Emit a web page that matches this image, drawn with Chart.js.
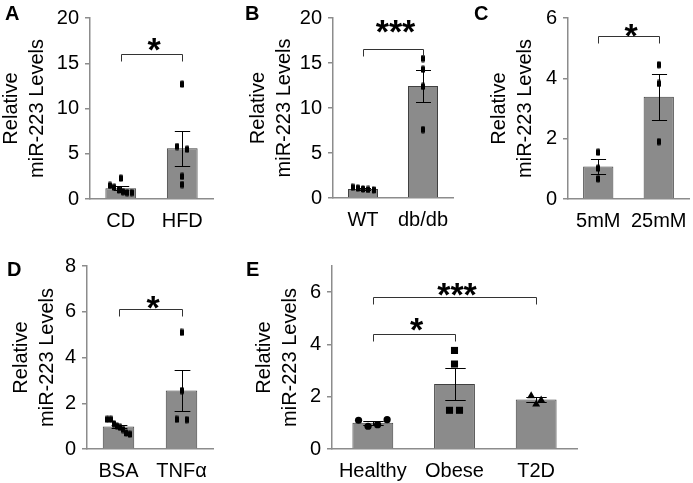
<!DOCTYPE html>
<html>
<head>
<meta charset="utf-8">
<script src="https://cdn.jsdelivr.net/npm/chart.js@4.4.1/dist/chart.umd.min.js"></script>
<style>
  body { margin: 0; background: #fff; }
  #wrap { position: relative; width: 693px; height: 483px; }
  canvas { position: absolute; }
  .tag { position: absolute; font: bold 20px "Liberation Sans", Arial, sans-serif; line-height: 20px; color: #000; }
</style>
</head>
<body>
<div id="wrap">
  <canvas id="cA" width="230" height="240" style="left:0;top:0"></canvas>
  <canvas id="cB" width="230" height="240" style="left:230px;top:0"></canvas>
  <canvas id="cC" width="233" height="240" style="left:460px;top:0"></canvas>
  <canvas id="cD" width="230" height="243" style="left:0;top:240px"></canvas>
  <canvas id="cE" width="463" height="243" style="left:230px;top:240px"></canvas>
  <div class="tag" style="left:5px;top:3px">A</div>
  <div class="tag" style="left:245px;top:3px">B</div>
  <div class="tag" style="left:474px;top:3px">C</div>
  <div class="tag" style="left:7px;top:259px">D</div>
  <div class="tag" style="left:246px;top:259px">E</div>
</div>
<script>
// values
const catsA = ["CD", "HFD"];
const meanA = [1.2, 5.6];
const semA = [0.22, 1.95];
const ptsA = [[2.3, 1.5, 1.3, 1.0, 0.8, 0.7, 0.7], [12.7, 5.8, 5.5, 2.5, 1.6]];
const ticksA = [0, 5, 10, 15, 20];
const sigA = [[0, 1, "*"]];

const catsB = ["WT", "db/db"];
const meanB = [1.0, 12.45];
const semB = [0.12, 1.75];
const ptsB = [[1.2, 1.1, 1.0, 0.95, 0.9], [15.5, 14.3, 12.4, 7.6]];
const ticksB = [0, 5, 10, 15, 20];
const sigB = [[0, 1, "***"]];

const catsC = ["5mM", "25mM"];
const meanC = [1.08, 3.39];
const semC = [0.25, 0.76];
const ptsC = [[1.55, 1.02, 0.67], [4.45, 3.83, 1.9]];
const ticksC = [0, 2, 4, 6];
const sigC = [[0, 1, "*"]];

const catsD = ["BSA", "TNFα"];
const meanD = [0.98, 2.56];
const semD = [0.08, 0.9];
const ptsD = [[1.3, 1.3, 1.1, 1.0, 0.95, 0.85, 0.7, 0.65], [5.1, 2.55, 1.3, 1.28]];
const ticksD = [0, 2, 4, 6, 8];
const sigD = [[0, 1, "*"]];

const catsE = ["Healthy", "Obese", "T2D"];
const meanE = [1.0, 2.49, 1.89];
const semE = [0.09, 0.6, 0.1];
const ptsE = [[1.1, 0.87, 0.93, 1.12], [3.77, 3.25, 1.48, 1.48], [2.03, 1.71, 1.87]];
const ticksE = [0, 2, 4, 6];
const sigE = [[0, 2, "***"], [0, 1, "*"]];

const FONT = "'Liberation Sans', Arial, sans-serif";
const AXIS = "#8c8c8c";

// small upright tick-shaped marker used in panels A-D
const dash = document.createElement("canvas");
dash.width = 4;
dash.height = 8;
(function () {
  const g = dash.getContext("2d");
  g.fillStyle = "#000";
  g.beginPath();
  g.roundRect(0, 0.5, 4, 7, 1.2);
  g.fill();
})();

// spread points that would overlap side by side, keeping their order
function dodge(groups, pxPerUnit, catPx) {
  const out = [];
  groups.forEach((vals, ci) => {
    const clusters = [];
    vals.forEach((v) => {
      const c = clusters.find((cl) => cl.some((u) => Math.abs(u - v) * pxPerUnit < 7));
      if (c) c.push(v);
      else clusters.push([v]);
    });
    clusters.forEach((cl) => {
      const gap = cl.length > 1 ? Math.min(10, (catPx * 0.35) / (cl.length - 1)) : 0;
      cl.forEach((v, j) => out.push({ x: ci + ((j - (cl.length - 1) / 2) * gap) / catPx, y: v, c: ci }));
    });
  });
  return out;
}

const overlay = {
  id: "overlay",
  beforeDatasetDraw(chart, args) {
    if (args.index !== 1) return;
    const o = chart.options.plugins.overlay;
    const bars = chart.getDatasetMeta(0).data;
    const y = chart.scales.y;
    const ctx = chart.ctx;
    ctx.save();
    ctx.strokeStyle = "#000";
    ctx.lineWidth = 1;
    bars.forEach((bar, i) => {
      const x = Math.round(bar.x) + 0.5;
      const hi = Math.round(y.getPixelForValue(o.mean[i] + o.sem[i])) + 0.5;
      const lo = Math.round(y.getPixelForValue(o.mean[i] - o.sem[i])) + 0.5;
      const cap = bar.width * 0.25;
      ctx.beginPath();
      ctx.moveTo(x, hi);
      ctx.lineTo(x, lo);
      ctx.moveTo(x - cap, hi);
      ctx.lineTo(x + cap, hi);
      ctx.moveTo(x - cap, lo);
      ctx.lineTo(x + cap, lo);
      ctx.stroke();
    });
    ctx.restore();
  },
  afterDraw(chart) {
    const o = chart.options.plugins.overlay;
    const bars = chart.getDatasetMeta(0).data;
    const y = chart.scales.y;
    const ctx = chart.ctx;
    ctx.save();
    ctx.strokeStyle = "#333";
    ctx.fillStyle = "#000";
    ctx.lineWidth = 1;
    o.sig.forEach(([a, b, label], k) => {
      const xa = Math.round(bars[a].x) + 0.5;
      const xb = Math.round(bars[b].x) + 0.5;
      const yy = Math.round(y.getPixelForValue(o.levels[k])) + 0.5;
      ctx.beginPath();
      ctx.moveTo(xa, yy + 7);
      ctx.lineTo(xa, yy);
      ctx.lineTo(xb, yy);
      ctx.lineTo(xb, yy + 7);
      ctx.stroke();
      ctx.font = "bold 34px " + FONT;
      ctx.textAlign = "center";
      ctx.textBaseline = "alphabetic";
      ctx.fillText(label, (xa + xb) / 2 + 2, yy - o.lift[k] + 0.575 * 34);
    });
    ctx.restore();
  },
};

function makePanel(id, p) {
  const el = document.getElementById(id);
  const plotH = el.height - p.top - p.xH;
  const catPx = (el.width - p.left - p.yW - p.right) / p.cats.length;
  const pts = dodge(p.pts, plotH / p.yMax, catPx);
  return new Chart(el.getContext("2d"), {
    type: "bar",
    data: {
      labels: p.cats,
      datasets: [
        {
          data: p.mean,
          order: 1,
          grouped: false,
          backgroundColor: "#8b8b8b",
          borderColor: "#404040",
          borderWidth: 1,
          barPercentage: 0.5,
          categoryPercentage: 1,
        },
        {
          type: "scatter",
          data: pts,
          order: 0,
          xAxisID: "xs",
          yAxisID: "y",
          backgroundColor: "#000",
          borderColor: "#000",
          borderWidth: 0,
          pointStyle: (c) => (p.marks ? p.marks[c.raw.c] : dash),
          pointRadius: (c) => (p.sizes ? p.sizes[c.raw.c] : 4),
        },
      ],
    },
    options: {
      responsive: false,
      animation: false,
      events: [],
      layout: { padding: { left: p.left, top: p.top, right: p.right, bottom: 0 } },
      plugins: {
        legend: { display: false },
        tooltip: { enabled: false },
        overlay: { mean: p.mean, sem: p.sem, sig: p.sig, levels: p.levels, lift: p.lift },
      },
      scales: {
        x: {
          type: "category",
          offset: true,
          grid: { display: false },
          border: { display: true, color: AXIS, width: 1.5 },
          ticks: { color: "#000", padding: 2, maxRotation: 0, minRotation: 0, autoSkip: false, font: { size: 20, family: FONT } },
          afterFit: (s) => { s.height = p.xH; },
        },
        xs: { type: "linear", display: false, offset: false, grid: { offset: false }, min: -0.5, max: p.cats.length - 0.5 },
        y: {
          min: 0,
          max: p.yMax,
          grid: { drawOnChartArea: false, drawTicks: true, tickLength: 5, color: AXIS, lineWidth: 1.5 },
          border: { display: true, color: AXIS, width: 1.5 },
          ticks: { color: "#000", padding: 6, font: { size: 20, family: FONT } },
          afterBuildTicks: (s) => { s.ticks = p.ticks.map((v) => ({ value: v })); },
          title: {
            display: true,
            text: ["Relative", "miR-223 Levels"],
            color: "#000",
            font: { size: 20, family: FONT, lineHeight: 1.3 },
            padding: { top: -2, bottom: 0 },
          },
          afterFit: (s) => { s.width = p.yW; },
        },
      },
    },
    plugins: [overlay],
  });
}

makePanel("cA", { cats: catsA, mean: meanA, sem: semA, pts: ptsA, ticks: ticksA, yMax: 20, sig: sigA, levels: [16.0], lift: [13],
  left: 0, top: 16, right: 17, yW: 90, xH: 41 });
makePanel("cB", { cats: catsB, mean: meanB, sem: semB, pts: ptsB, ticks: ticksB, yMax: 20, sig: sigB, levels: [16.6], lift: [26],
  left: 17, top: 15, right: 7, yW: 86, xH: 42 });
makePanel("cC", { cats: catsC, mean: meanC, sem: semC, pts: ptsC, ticks: ticksC, yMax: 6, sig: sigC, levels: [5.4], lift: [9],
  left: 28, top: 15, right: 3, yW: 80, xH: 41 });
makePanel("cD", { cats: catsD, mean: meanD, sem: semD, pts: ptsD, ticks: ticksD, yMax: 8, sig: sigD, levels: [6.14], lift: [10],
  left: 10, top: 26, right: 17, yW: 77, xH: 34 });
makePanel("cE", { cats: catsE, mean: meanE, sem: semE, pts: ptsE, ticks: ticksE, yMax: 7, sig: sigE, levels: [5.81, 4.39], lift: [11, 13],
  left: 23, top: 26, right: 116, yW: 79, xH: 34,
  marks: ["circle", "rect", "triangle"], sizes: [3.6, 5, 4.6] });
</script>
</body>
</html>
